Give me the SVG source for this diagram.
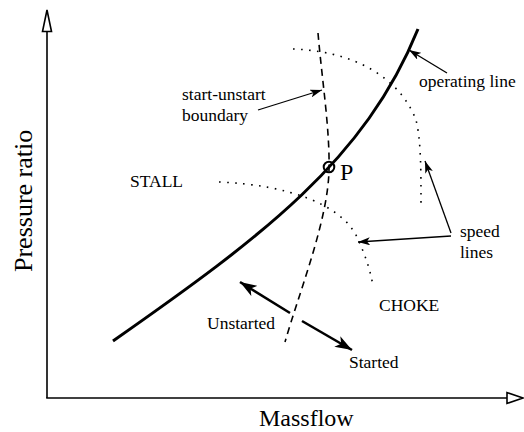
<svg xmlns="http://www.w3.org/2000/svg" width="524" height="432" viewBox="0 0 524 432">
  <style>
    .lbl { font-family: "Liberation Serif", "Times New Roman", serif; font-size: 17.5px; fill: #000; }
    .axl { font-family: "Liberation Serif", "Times New Roman", serif; font-size: 24px; fill: #000; }
    .thin { stroke: #000; stroke-width: 1.3; fill: none; marker-end: url(#ah); }
    .thick { stroke: #000; stroke-width: 2.6; fill: none; marker-end: url(#ahb); }
    .dots { stroke: #000; stroke-width: 1.6; fill: none; stroke-dasharray: 1.6 6.4; }
  </style>
  <defs>
    <marker id="ah" viewBox="0 0 12 8" refX="12" refY="4" markerWidth="12" markerHeight="8" markerUnits="userSpaceOnUse" orient="auto">
      <path d="M0,0 L12,4 L0,8 L3,4 z" fill="#000"/>
    </marker>
    <marker id="ahb" viewBox="0 0 17 12" refX="17" refY="6" markerWidth="17" markerHeight="12" markerUnits="userSpaceOnUse" orient="auto">
      <path d="M0,0 L17,6 L0,12 L4.5,6 z" fill="#000"/>
    </marker>
  </defs>
  <rect width="524" height="432" fill="#fff"/>

  <g id="axes" stroke="#000" stroke-width="1.6" fill="#fff">
    <line x1="47" y1="398" x2="47" y2="31"/>
    <line x1="46.2" y1="398" x2="507" y2="398"/>
    <path d="M47,10 L42.5,31.5 L51.5,31.5 z"/>
    <path d="M523,398 L507,392.5 L507,403.5 z"/>
  </g>
  <text class="axl" style="font-size:26px" transform="translate(31.5,272) rotate(-90)">Pressure ratio</text>
  <text class="axl" x="259" y="426">Massflow</text>

  <g id="speed-lines">
    <path class="dots" d="M293,49 C370,52 405,90 416,120 C421,140 421,170 421,204"/>
    <path class="dots" d="M219,182 C290,185 340,205 356,235 C364,252 370,268 373,286"/>
  </g>

  <g id="boundary">
    <path d="M318,33 C322,80 330,130 329,170 C328,220 300,290 285,342" stroke="#000" stroke-width="1.6" fill="none" stroke-dasharray="7 5"/>
  </g>

  <g id="operating-line">
    <path d="M113,341 C263,236 365,160 418,29" stroke="#000" stroke-width="3" fill="none"/>
  </g>

  <g id="point-P">
    <circle cx="329" cy="167" r="5.3" stroke="#000" stroke-width="2" fill="none"/>
    <text x="340" y="180" class="axl">P</text>
  </g>

  <g id="connectors">
    <line class="thin" x1="447" y1="73" x2="409" y2="50"/>
    <line class="thin" x1="258" y1="110" x2="322" y2="90"/>
    <line class="thin" x1="451" y1="233" x2="425" y2="161"/>
    <line class="thin" x1="451" y1="236" x2="358" y2="242"/>
    <line class="thick" x1="290" y1="313" x2="240" y2="282"/>
    <line class="thick" x1="302" y1="321" x2="352" y2="350"/>
  </g>

  <g id="labels">
    <text class="lbl" x="419" y="87">operating line</text>
    <text class="lbl" x="182" y="100">start-unstart</text>
    <text class="lbl" x="182" y="121">boundary</text>
    <text class="lbl" x="130" y="187">STALL</text>
    <text class="lbl" x="460" y="237">speed</text>
    <text class="lbl" x="460" y="258">lines</text>
    <text class="lbl" x="379" y="311">CHOKE</text>
    <text class="lbl" x="207" y="329">Unstarted</text>
    <text class="lbl" x="349" y="368">Started</text>
  </g>
</svg>
